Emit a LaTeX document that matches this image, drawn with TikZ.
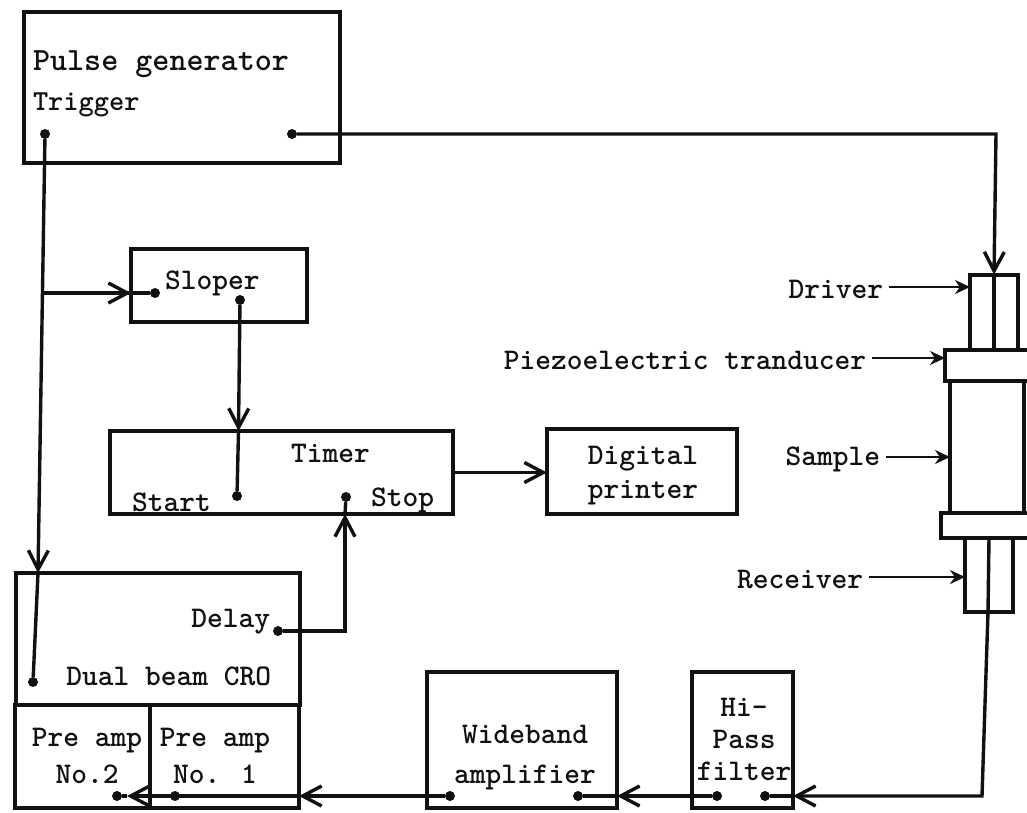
\documentclass[tikz,border=0pt]{standalone}
\usepackage{xcolor}
\usepackage{tikz}
\usetikzlibrary{
  arrows.meta,
  positioning,
  calc
}
\definecolor{inkLine}{HTML}{111111}
\tikzset{
  unit/.style={
    draw=inkLine, line width=3.4pt, inner sep=0pt, outer sep=0pt, rectangle
  },
  caption/.style={
    inner sep=0pt, outer sep=0pt, text=inkLine, align=center,
    font=\fontsize{30}{34}\selectfont\ttfamily\bfseries
  },
  term/.style={circle, fill=inkLine, inner sep=0pt, minimum size=10pt},
  wire/.style={line width=3.4pt, draw=inkLine},
  flow/.style={wire, -{Straight Barb[length=19pt, width=20pt, line width=3.4pt]}},
  pointer/.style={line width=2.8pt, draw=inkLine, -{Stealth[length=15pt, width=14pt]}}
}
\begin{document}
\begin{tikzpicture}[x=1pt, y=-1pt]
  \useasboundingbox (0,0) rectangle (1027,812);
  \clip (0,0) rectangle (1027,812);
  % blocks
  \node[unit, minimum width=316pt, minimum height=151pt] (pulse) at (182,87.5) {};
  \node[unit, minimum width=176pt, minimum height=73pt] (sloper) at (219,285.5) {};
  \node[unit, minimum width=343pt, minimum height=83pt] (timer) at (281.5,472.5) {};
  \node[unit, minimum width=190pt, minimum height=85pt] (printer) at (642,471.5) {};
  \node[unit, minimum width=284pt, minimum height=132pt] (cro) at (158,639) {};
  \node[unit, minimum width=135pt, minimum height=103pt] (preb) at (82.5,756.5) {};
  \node[unit, minimum width=149pt, minimum height=103pt] (prea) at (224.5,756.5) {};
  \node[unit, minimum width=190pt, minimum height=136pt] (wide) at (522,740) {};
  \node[unit, minimum width=101pt, minimum height=136pt] (hipass) at (742.5,740) {};
  % sample stack
  \node[unit, minimum width=48pt, minimum height=75pt] (driver) at (994,312.5) {};
  \node[unit, minimum width=100pt, minimum height=31pt] (trans) at (995,365.5) {};
  \node[unit, minimum width=74pt, minimum height=132pt] (sample) at (987,447) {};
  \node[unit, minimum width=100pt, minimum height=25pt] (flange) at (991,525.5) {};
  \node[unit, minimum width=48pt, minimum height=74pt] (receiver) at (989,575) {};
  % texts
  \node[caption, anchor=west, font=\fontsize{32.5}{40}\selectfont\ttfamily\bfseries] (pulsetxt) at (33,64) {Pulse generator};
  \node[caption, anchor=west, font=\fontsize{29}{34}\selectfont\ttfamily\bfseries] (trigtxt) at (33,105) {Trigger};
  \node[caption, anchor=west] (slopertxt) at (165,283) {Sloper};
  \node[caption, anchor=west] (timertxt) at (291,453) {Timer};
  \node[caption, anchor=west] (starttxt) at (132,502) {Start};
  \node[caption, anchor=west] (stoptxt) at (371,500) {Stop};
  \node[caption] (printertxt) at (643,476) {Digital\\printer};
  \node[caption, anchor=east] (delaytxt) at (270,622) {Delay};
  \node[caption, anchor=east] (crotxt) at (271,676) {Dual beam CRO};
  \node[caption, font=\fontsize{30}{37}\selectfont\ttfamily\bfseries] (prebtxt) at (87,756) {Pre amp\\No.2};
  \node[caption, font=\fontsize{30}{37}\selectfont\ttfamily\bfseries] (preatxt) at (215,756) {Pre amp\\No. 1};
  \node[caption, font=\fontsize{30}{40}\selectfont\ttfamily\bfseries] (widetxt) at (525,758) {Wideband\\amplifier};
  \node[caption, font=\fontsize{30}{32}\selectfont\ttfamily\bfseries] (hipasstxt) at (744,739) {Hi-\\Pass\\filter};
  \node[caption, anchor=east] (drivertxt) at (883,289) {Driver};
  \node[caption, anchor=east] (transtxt) at (866,360) {Piezoelectric tranducer};
  \node[caption, anchor=east] (sampletxt) at (880,459) {Sample};
  \node[caption, anchor=east] (receivertxt) at (863,579) {Receiver};
  % terminals
  \node[term] (tpulse) at (292,134) {};
  \node[term] (ttrig) at (45,134) {};
  \node[term] (tslin) at (155,293) {};
  \node[term] (tslout) at (240,300) {};
  \node[term] (tstart) at (237,496) {};
  \node[term] (tstop) at (346,497) {};
  \node[term] (tdelay) at (278,631) {};
  \node[term] (tcro) at (33,682) {};
  \node[term] (tpreb) at (117,796) {};
  \node[term] (tprea) at (175,796) {};
  \node[term] (twidein) at (578,796) {};
  \node[term] (twideout) at (450,796) {};
  \node[term] (thiin) at (765,796) {};
  \node[term] (thiout) at (717,796) {};
  \coordinate (corner1) at (996,134);
  \coordinate (branch) at (43,293);
  \coordinate (croin) at (38,573);
  \coordinate (timerin) at (238.5,431);
  \coordinate (bend) at (345,631);
  \coordinate (corner2) at (982,796);
  \coordinate (recvout) at (988,612);
  \coordinate (preain) at (127,796);
  % connectors
  \draw[flow] (tpulse) -- (corner1) -- (994,274.5);
  \draw[wire] (driver.north) -- (trans.north -| driver.north);
  \draw[flow] (ttrig) -- (croin);
  \draw[wire] (croin) -- (tcro);
  \draw[wire] (branch) -- (tslin);
  \draw[flow] (branch) -- (sloper.west |- branch);
  \draw[flow] (tslout) -- (timerin);
  \draw[wire] (timerin) -- (tstart);
  \draw[flow] (tdelay) -- (bend) -- (bend |- timer.south);
  \draw[wire] (bend |- timer.south) -- (tstop);
  \draw[flow] (timer.east) -- (printer.west |- timer.east);
  \draw[wire] (receiver.north) -- (recvout);
  \draw[flow] (recvout) -- (corner2) -- (hipass.east |- corner2);
  \draw[wire] (hipass.east |- corner2) -- (thiin);
  \draw[flow] (thiout) -- (wide.east |- thiout);
  \draw[wire] (wide.east |- thiout) -- (twidein);
  \draw[flow] (twideout) -- (prea.east |- twideout);
  \draw[flow] (prea.east |- twideout) -- (preain);
  \draw[wire] (preain) -- (tpreb);
  % pointers
  \foreach \s/\e in {drivertxt/driver, transtxt/trans, sampletxt/sample, receivertxt/receiver}{
    \draw[pointer] ($(\s.east)+(6pt,2pt)$) -- ($(\s.east -| \e.west)+(0pt,2pt)$);
  }
\end{tikzpicture}
\end{document}
